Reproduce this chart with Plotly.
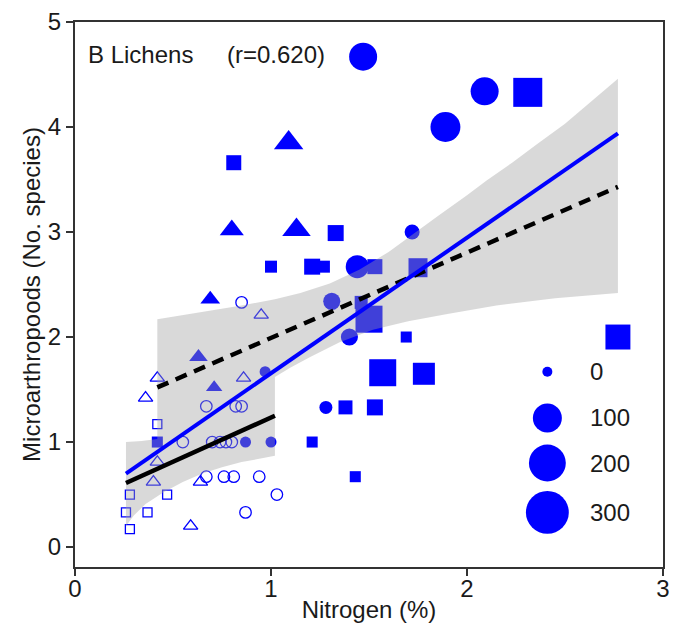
import numpy as np
import plotly.graph_objects as go

# ---------------- data ----------------
# filled symbols: nitrogen (%), microarthropods (No. species), abundance (size key)
fc_x = [1.47, 2.09, 1.89, 1.72, 1.44, 1.31, 1.40, 1.28, 0.97, 0.87, 1.00]
fc_y = [4.67, 4.34, 4.00, 3.00, 2.67, 2.34, 2.00, 1.33, 1.67, 1.00, 1.00]
fc_v = [90, 90, 110, 7, 47, 14, 14, 2.5, 0.3, 0.3, 0.3]

ft_x = [1.09, 0.80, 1.13, 0.69, 0.63, 0.71]
ft_y = [3.85, 3.02, 3.02, 2.36, 1.81, 1.52]
ft_v = [67, 33, 60, 14, 10.6, 5.1]

fs_x = [2.31, 0.81, 1.33, 1.00, 1.21, 1.27, 1.53, 1.75, 1.46, 1.50,
        1.69, 2.77, 1.57, 1.78, 1.38, 1.53, 1.21, 1.43, 0.42]
fs_y = [4.33, 3.66, 2.99, 2.67, 2.67, 2.67, 2.67, 2.66, 2.33, 2.17,
        2.00, 2.00, 1.66, 1.65, 1.33, 1.33, 1.00, 0.67, 1.00]
fs_v = [100, 6.9, 10, 1.1, 10, 1.1, 6.9, 22.4, 2.5, 80,
        0.3, 62, 80, 40, 4.4, 10, 0.3, 0.3, 0.3]

# open symbols
oc_x = [0.85, 0.67, 0.82, 0.85, 0.55, 0.70, 0.74, 0.77, 0.80, 0.67, 0.76, 0.81, 0.94, 1.03, 0.87]
oc_y = [2.33, 1.34, 1.34, 1.34, 1.00, 1.00, 1.00, 1.00, 1.00, 0.67, 0.67, 0.67, 0.67, 0.50, 0.33]

ot_x = [0.95, 0.42, 0.36, 0.86, 0.42, 0.40, 0.64, 0.59]
ot_y = [2.21, 1.61, 1.42, 1.61, 0.81, 0.62, 0.62, 0.20]

os_x = [0.42, 0.28, 0.47, 0.26, 0.37, 0.28]
os_y = [1.17, 0.50, 0.50, 0.33, 0.33, 0.17]

# regression lines
all_fit_x = [0.26, 2.77]
all_fit_y = [0.70, 3.94]
open_fit_x = [0.26, 1.02]
open_fit_y = [0.61, 1.25]
filled_fit_x = [0.42, 2.77]
filled_fit_y = [1.52, 3.43]

# confidence band outline (union of the two bands)
band_x = [0.26, 0.30, 0.36, 0.45, 0.55, 0.65, 0.75, 0.85, 0.94, 1.02,
          1.02, 1.10, 1.20, 1.35, 1.52, 1.70, 1.90, 2.15, 2.45, 2.77,
          2.77, 2.62, 2.50, 2.36, 2.23, 2.10, 2.00, 1.85, 1.72, 1.60, 1.45, 1.30, 1.15, 1.02, 0.85, 0.65, 0.42,
          0.42, 0.34, 0.26, 0.26]
band_y = [0.20, 0.30, 0.41, 0.52, 0.62, 0.70, 0.76, 0.81, 0.84, 0.87,
          1.62, 1.71, 1.81, 1.95, 2.07, 2.15, 2.22, 2.30, 2.37, 2.42,
          4.46, 4.22, 4.03, 3.84, 3.66, 3.49, 3.35, 3.15, 2.97, 2.81, 2.64, 2.51, 2.42, 2.36, 2.30, 2.24, 2.17,
          1.03, 1.01, 1.00, 0.20]

key_values = [0, 100, 200, 300]
key_labels = ["0", "100", "200", "300"]

x_ticks = [0, 1, 2, 3]
y_ticks = [0, 1, 2, 3, 4, 5]

# ---------------- styling ----------------
BLUE = "#0000ff"
FONT = "Liberation Sans, Arial, sans-serif"
TXT = "#1a1a1a"


def dia(v):
    return [10 + 1.9 * np.sqrt(max(a, 0)) for a in v]


fig = go.Figure()


def filled(xs, ys, vs, sym):
    fig.add_trace(go.Scatter(x=xs, y=ys, mode="markers",
                             marker=dict(symbol=sym, size=dia(vs), color=BLUE, opacity=1,
                                         line=dict(width=0)), hoverinfo="skip"))


def hollow(xs, ys, sym, size):
    fig.add_trace(go.Scatter(x=xs, y=ys, mode="markers",
                             marker=dict(symbol=sym, size=size, color=BLUE, opacity=1,
                                         line=dict(width=1.3, color=BLUE)), hoverinfo="skip"))


filled(fc_x, fc_y, fc_v, "circle")
filled(ft_x, ft_y, ft_v, "triangle-up")
filled(fs_x, fs_y, fs_v, "square")
hollow(oc_x, oc_y, "circle-open", 11.5)
hollow(ot_x, ot_y, "triangle-up-open", 12.5)
hollow(os_x, os_y, "square-open", 9)

# confidence band (semi-transparent, over the points)
fig.add_trace(go.Scatter(x=band_x, y=band_y, mode="lines", fill="toself",
                         fillcolor="rgba(160,160,160,0.4)",
                         line=dict(width=0, color="rgba(0,0,0,0)"),
                         hoverinfo="skip"))

# regression lines
fig.add_trace(go.Scatter(x=open_fit_x, y=open_fit_y, mode="lines",
                         line=dict(color="black", width=4.5), hoverinfo="skip"))
fig.add_trace(go.Scatter(x=filled_fit_x, y=filled_fit_y, mode="lines",
                         line=dict(color="black", width=4.5, dash="12px,8px"), hoverinfo="skip"))
fig.add_trace(go.Scatter(x=all_fit_x, y=all_fit_y, mode="lines",
                         line=dict(color=BLUE, width=4), hoverinfo="skip"))

# size key
key_x = 2.41
key_y = [1.67, 1.23, 0.80, 0.33]
filled([key_x] * len(key_values), key_y, key_values, "circle")
for lab, yy in zip(key_labels, key_y):
    fig.add_annotation(x=2.615, y=yy, text=lab, showarrow=False, xanchor="left",
                       yanchor="middle", font=dict(family=FONT, size=24, color=TXT))

fig.add_annotation(x=0.055, y=4.69, text="B Lichens", showarrow=False, xanchor="left",
                   yanchor="middle", font=dict(family=FONT, size=24, color=TXT))
fig.add_annotation(x=0.765, y=4.69, text="(r=0.620)", showarrow=False, xanchor="left",
                   yanchor="middle", font=dict(family=FONT, size=24, color=TXT))

axis_common = dict(showgrid=False, zeroline=False, showline=True, linecolor="#333333",
                   linewidth=2, mirror=True, ticks="outside", ticklen=7, tickwidth=1.5,
                   tickcolor="#333333", tickfont=dict(family=FONT, size=24, color=TXT))

fig.update_xaxes(range=[0, 3], tickvals=x_ticks, ticktext=[str(t) for t in x_ticks],
                 ticklabelstandoff=-8,
                 title=dict(text="Nitrogen (%)", font=dict(family=FONT, size=24, color=TXT),
                            standoff=0),
                 **axis_common)
fig.update_yaxes(range=[-0.19, 5], tickvals=y_ticks, ticktext=[str(t) for t in y_ticks],
                 title=dict(text="Microarthropoods (No. species)",
                            font=dict(family=FONT, size=24, color=TXT), standoff=0),
                 **axis_common)

fig.update_layout(width=674, height=634, showlegend=False,
                  margin=dict(l=75, r=11, t=22, b=67, autoexpand=False),
                  paper_bgcolor="white", plot_bgcolor="white")

fig.write_html("out.html")
